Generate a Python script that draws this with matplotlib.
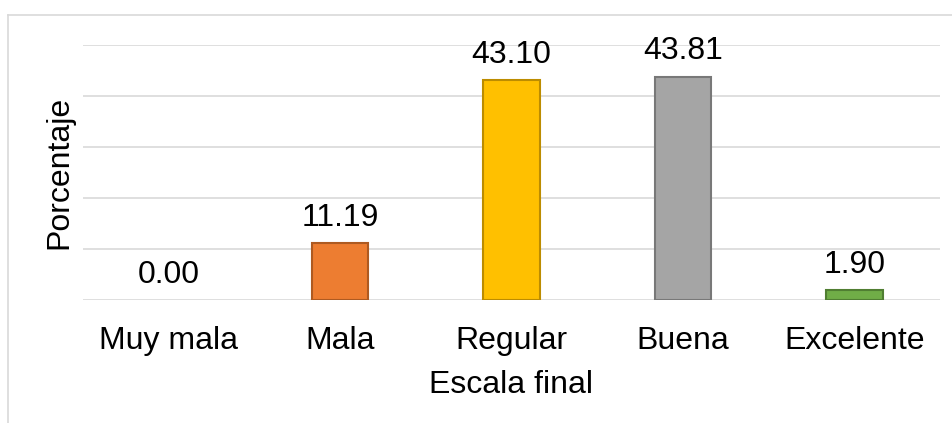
import matplotlib.pyplot as plt
from matplotlib.lines import Line2D

categorias = ['Muy mala', 'Mala', 'Regular', 'Buena', 'Excelente']
porcentajes = [0.00, 11.19, 43.10, 43.81, 1.90]
etiquetas = ['0.00', '11.19', '43.10', '43.81', '1.90']
colores = ['#4472C4', '#ED7D31', '#FFC000', '#A5A5A5', '#70AD47']
bordes = ['#2F528F', '#AE5A21', '#BC8C00', '#787878', '#507E32']

plt.rcParams.update({
    'font.family': ['Liberation Sans', 'DejaVu Sans'],
    'font.size': 23,
})

fig = plt.figure(figsize=(9.53, 4.23), dpi=100)
ax = fig.add_axes([83 / 953, 123 / 423, 857 / 953, 255 / 423])

x = range(len(categorias))
# una barra de altura cero no muestra borde
grosores = [1.5 if v > 0 else 0 for v in porcentajes]
ax.bar(x, porcentajes, width=0.33, color=colores, edgecolor=bordes,
       linewidth=grosores, zorder=3)

for xi, v, t in zip(x, porcentajes, etiquetas):
    ax.annotate(t, (xi, v), xytext=(0, 12.5), textcoords='offset points',
                ha='center', va='baseline', color='#000000')

ax.set_xlim(-0.5, 4.5)
ax.set_ylim(0, 50)
ax.set_yticks([0, 10, 20, 30, 40, 50])
ax.set_yticklabels([])
ax.set_xticks(list(x))
ax.set_xticklabels(categorias)
ax.tick_params(axis='both', length=0)
ax.tick_params(axis='x', pad=19)
ax.grid(axis='y', color='#D9D9D9', linewidth=1.2, zorder=0)
for s in ax.spines.values():
    s.set_visible(False)

ax.set_xlabel('Escala final', labelpad=10)
ax.set_ylabel('Porcentaje', labelpad=3)

# marco exterior del grafico
fig.add_artist(Line2D([8.5 / 953, 8.5 / 953], [0, 408 / 423],
                      transform=fig.transFigure, color='#D9D9D9', linewidth=1.2))
fig.add_artist(Line2D([8.5 / 953, 1], [408 / 423, 408 / 423],
                      transform=fig.transFigure, color='#D9D9D9', linewidth=1.2))

fig.savefig('out.png', dpi=100)
